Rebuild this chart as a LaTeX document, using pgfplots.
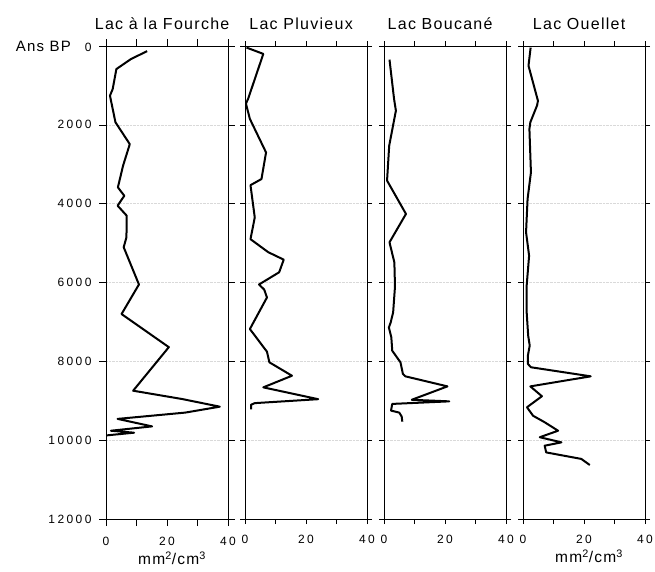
\documentclass[border=0pt]{standalone}
\usepackage{fontspec}
\setmainfont{Liberation Sans}
\newfontfamily\tickfont[LetterSpace=20]{Liberation Sans}
\newfontfamily\titlefont[LetterSpace=8]{Liberation Sans}
\usepackage{pgfplots}
\pgfplotsset{compat=1.18}
\pgfplotsset{profline/.style={black, line width=2pt, line join=round, mark=none}}
\pgfplotsset{panel/.style={
  scale only axis, width=122pt, height=473pt,
  anchor=north west,
  xmin=0, xmax=40, ymin=0, ymax=12000, y dir=reverse,
  scaled ticks=false,
  axis line style={black, line width=0.6pt},
  xtick={0,10,20,30,40}, xticklabels={0,,20,,40},
  ytick={0,2000,...,12000}, yticklabels={},
  xtick pos=both, xticklabel pos=lower,
  ytick pos=both,
  tick align=outside, major tick length=5pt,
  tick style={black, line width=0.6pt},
  ymajorgrids, grid style={gray!30, densely dotted, line width=0.5pt},
  /pgf/number format/assume math mode=true,
  ticklabel style={font=\tickfont\fontsize{12}{12}\selectfont},
  xticklabel style={yshift=-8pt},
  title style={font=\titlefont\fontsize{16}{16}\selectfont, at={(0.46,1)}, anchor=base, yshift=11pt},
  label style={font=\titlefont\fontsize{15.5}{15.5}\selectfont},
  xlabel style={xshift=5pt, yshift=1pt},
}}
\begin{document}
\begin{tikzpicture}
\useasboundingbox (0,0) rectangle (655pt,-571pt);
% Panel 1
\begin{axis}[panel, at={(106pt,-46pt)}, title={Lac à la Fourche},
  yticklabels={{\titlefont\fontsize{15}{15}\selectfont Ans BP}\hspace{14pt}0,2000,4000,6000,8000,10000,12000},
  yticklabel style={xshift=-4pt}, major tick length=7pt,
  xlabel={mm\textsuperscript{2}/cm\textsuperscript{3}}]
\addplot[profline] coordinates {(13.5,130) (8.2,330) (3.4,585) (2.2,1090) (1.3,1260) (3.1,1935) (7.8,2490) (5.6,3035) (3.9,3585) (6.0,3800) (3.8,4050) (6.8,4305) (6.7,4855) (5.8,5105) (10.8,6050) (5.1,6800) (20.6,7640) (8.9,8745) (24.9,8955) (37.3,9150) (26,9300) (3.8,9460) (15.1,9650) (1.6,9760) (9.2,9810) (0,9880)};
\end{axis}
% Panel 2
\begin{axis}[panel, at={(245pt,-46pt)}, title={Lac Pluvieux}]
\addplot[profline] coordinates {(0.5,40) (6,200) (1,1345) (0.3,1460) (1.6,1850) (6.9,2700) (5.4,3375) (1.8,3530) (3.2,4350) (1.8,4900) (7.6,5230) (12.7,5420) (11.2,5740) (4.6,6050) (6.3,6180) (7.2,6380) (1.6,7180) (7.2,7755) (8,8025) (15.4,8365) (6,8660) (24,8960) (3.2,9060) (2,9100) (2,9220)};
\end{axis}
% Panel 3
\begin{axis}[panel, at={(384pt,-46pt)}, title={Lac Boucané}]
\addplot[profline] coordinates {(1.8,345) (3.3,1345) (3.9,1640) (1.7,2530) (1.0,3415) (7.2,4260) (1.8,4980) (3.4,5490) (3.6,6100) (3.0,6755) (2.2,7010) (1.6,7140) (2.4,7390) (2.7,7730) (5.4,8025) (6.2,8320) (7,8380) (20.8,8635) (9.1,8975) (21.4,9015) (2.7,9080) (2.3,9250) (5,9300) (5.8,9400) (6,9530)};
\end{axis}
% Panel 4
\begin{axis}[panel, at={(523pt,-46pt)}, title={Lac Ouellet},
  xlabel={mm\textsuperscript{2}/cm\textsuperscript{3}}]
\addplot[profline] coordinates {(2.5,40) (1.8,500) (4.9,1390) (4.6,1510) (2.4,1935) (2.1,2105) (2.6,3205) (1.5,3880) (1.0,4725) (2.0,5320) (1.2,6080) (1.2,6755) (1.7,7350) (2.2,7600) (1.6,7855) (1.6,8065) (2.6,8150) (22.2,8380) (2.4,8635) (6.2,8885) (1.3,9165) (3.3,9380) (7.1,9545) (11.5,9760) (5.5,9925) (12.6,10055) (7.1,10140) (7.6,10310) (19.1,10475) (21.9,10630)};
\end{axis}
\end{tikzpicture}
\end{document}
